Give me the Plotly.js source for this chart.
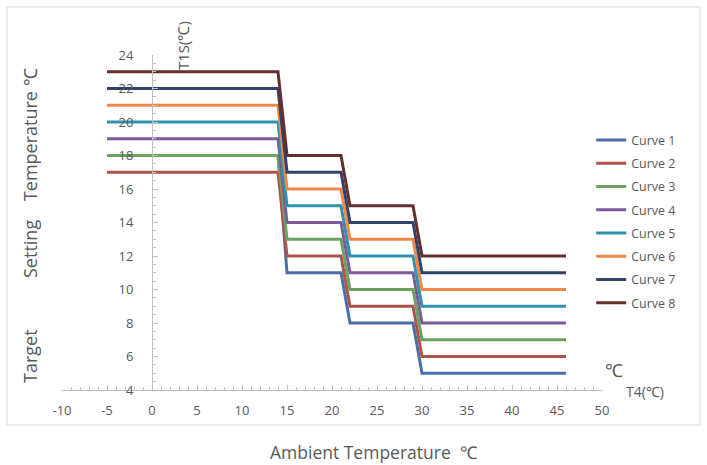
<!DOCTYPE html>
<html>
<head>
<meta charset="utf-8">
<script src="https://cdn.plot.ly/plotly-3.0.1.min.js"></script>
<style>html,body{margin:0;padding:0;background:#fff;}#chart{width:707px;height:465px;}</style>
</head>
<body>
<div id="chart"></div>
<script>
// Ambient temperature T4 (°C) breakpoints
const t4 = [-5, 14, 15, 21, 22, 29, 30, 46];
// Target setting temperature T1S (°C) per curve
const curve1 = [18, 18, 11, 11, 8, 8, 5, 5];
const curve2 = [17, 17, 12, 12, 9, 9, 6, 6];
const curve3 = [18, 18, 13, 13, 10, 10, 7, 7];
const curve4 = [19, 19, 14, 14, 11, 11, 8, 8];
const curve5 = [20, 20, 15, 15, 12, 12, 9, 9];
const curve6 = [21, 21, 16, 16, 13, 13, 10, 10];
const curve7 = [22, 22, 17, 17, 14, 14, 11, 11];
const curve8 = [23, 23, 18, 18, 15, 15, 12, 12];
const curveNames = ["Curve 1","Curve 2","Curve 3","Curve 4","Curve 5","Curve 6","Curve 7","Curve 8"];
const xTicks = [-10, -5, 0, 5, 10, 15, 20, 25, 30, 35, 40, 45, 50];
const yTicks = [4, 6, 8, 10, 12, 14, 16, 18, 20, 22, 24];

const series = [curve1, curve2, curve3, curve4, curve5, curve6, curve7, curve8];
const colors = ["#4a6fa8", "#b0524c", "#6aa35c", "#7b5c99", "#2e92ae", "#f0884a", "#33426a", "#642f2f"];

const traces = series.map((ys, i) => ({
  x: t4, y: ys, type: "scatter", mode: "lines", name: curveNames[i],
  legendgroup: "g" + i,
  line: {color: colors[i], width: 3}
}));

const txt = "#595959";
const axisCol = "#bfbfbf";
const nb = n => "\u00a0".repeat(n);
const layout = {
  width: 707, height: 465,
  margin: {l: 62, r: 105, t: 55, b: 75},
  paper_bgcolor: "#fff", plot_bgcolor: "#fff",
  font: {family: "Open Sans, Liberation Sans, sans-serif", color: txt, size: 13},
  showlegend: true,
  legend: {x: 0.98, y: 0.79, xanchor: "left", yanchor: "top",
    font: {size: 12.5, color: txt}, traceorder: "grouped", tracegroupgap: 4,
    bgcolor: "rgba(0,0,0,0)"},
  xaxis: {range: [-10, 50], tickvals: xTicks, ticktext: xTicks.map(String),
    showgrid: false, zeroline: false, showline: true, linecolor: axisCol, linewidth: 1,
    ticks: "inside", ticklen: 5, tickcolor: axisCol, ticklabelstandoff: 8,
    tickfont: {size: 13, color: txt},
    minor: {dtick: 1, ticks: "inside", ticklen: 3, tickcolor: axisCol, showgrid: false}},
  yaxis: {range: [4, 24], tickvals: yTicks, ticktext: yTicks.map(String),
    anchor: "free", position: 1/6, side: "left",
    showgrid: false, zeroline: false, showline: true, linecolor: axisCol, linewidth: 1,
    ticks: "inside", ticklen: 5, tickcolor: axisCol, ticklabelstandoff: 16,
    tickfont: {size: 13, color: txt},
    minor: {dtick: 0.5, ticks: "inside", ticklen: 3, tickcolor: axisCol, showgrid: false}},
  shapes: [
    {type: "rect", xref: "paper", yref: "paper", x0: -0.1019, x1: 1.1815, y0: -0.1045, y1: 1.1433,
      line: {color: "#d9d9d9", width: 1}, fillcolor: "rgba(0,0,0,0)", layer: "below"}
  ],
  annotations: [
    {xref: "paper", yref: "paper", x: (30 - 62) / 540, y: (390 - 226) / 335,
      text: "Target" + nb(11) + "Setting" + nb(4) + "Temperature" + nb(1) + "℃",
      textangle: -90, showarrow: false, font: {size: 18, color: txt}, xanchor: "center", yanchor: "middle"},
    {xref: "paper", yref: "paper", x: (374 - 62) / 540, y: (390 - 452) / 335, text: "Ambient Temperature  ℃",
      showarrow: false, font: {size: 17.5, color: txt}, xanchor: "center", yanchor: "middle"},
    {xref: "paper", yref: "paper", x: (183 - 62) / 540, y: (390 - 46) / 335, text: "T1S(℃)",
      textangle: -90, showarrow: false, font: {size: 15, color: txt}, xanchor: "center", yanchor: "middle"},
    {xref: "paper", yref: "paper", x: (645 - 62) / 540, y: (390 - 391) / 335, text: "T4(℃)",
      showarrow: false, font: {size: 14, color: txt}, xanchor: "center", yanchor: "middle"},
    {xref: "paper", yref: "paper", x: (614 - 62) / 540, y: (390 - 370) / 335, text: "℃",
      showarrow: false, font: {size: 18, color: txt}, xanchor: "center", yanchor: "middle"}
  ]
};

Plotly.newPlot("chart", traces, layout, {displayModeBar: false, staticPlot: true});
</script>
</body>
</html>
